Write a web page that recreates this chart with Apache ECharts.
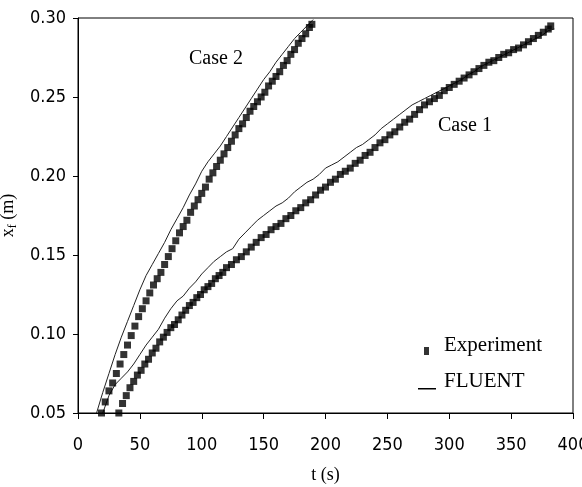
<!DOCTYPE html>
<html>
<head>
<meta charset="utf-8">
<script src="https://cdn.jsdelivr.net/npm/echarts@6/dist/echarts.min.js"></script>
<style>
  html, body { margin: 0; padding: 0; background: #fff; }
  #chart { width: 582px; height: 487px; }
</style>
</head>
<body>
<div id="chart"></div>
<script>
// [t (s), x_f (m)]
const case1Exp = [
  [33, 0.050], [36, 0.056], [39, 0.061], [42, 0.066], [45, 0.070], [48, 0.074],
  [51, 0.077], [54, 0.081], [57, 0.084], [60, 0.088], [63, 0.091], [66, 0.095],
  [69, 0.098], [72, 0.101], [75, 0.104], [78, 0.106], [81, 0.109], [84, 0.112],
  [87, 0.115], [90, 0.118], [93, 0.120], [96, 0.123], [99, 0.125], [102, 0.128],
  [105, 0.130], [108, 0.132], [111, 0.135], [114, 0.137], [117, 0.139], [120, 0.142],
  [124, 0.144], [128, 0.147], [132, 0.149], [136, 0.152], [140, 0.155], [144, 0.158],
  [148, 0.161], [152, 0.163], [156, 0.166], [160, 0.168], [164, 0.170], [168, 0.173],
  [172, 0.175], [176, 0.178], [180, 0.180], [184, 0.183], [188, 0.185], [192, 0.188],
  [196, 0.191], [200, 0.193], [204, 0.196], [208, 0.198], [212, 0.201], [216, 0.203],
  [220, 0.205], [224, 0.208], [228, 0.210], [232, 0.213], [236, 0.215], [240, 0.218],
  [244, 0.221], [248, 0.223], [252, 0.226], [256, 0.228], [260, 0.231], [264, 0.234],
  [268, 0.236], [272, 0.239], [276, 0.242], [280, 0.245], [284, 0.247], [288, 0.249],
  [292, 0.251], [296, 0.254], [300, 0.256], [304, 0.258], [308, 0.260], [312, 0.262],
  [316, 0.264], [320, 0.266], [324, 0.268], [328, 0.270], [332, 0.272], [336, 0.273],
  [340, 0.275], [344, 0.277], [348, 0.278], [352, 0.280], [356, 0.281], [360, 0.283],
  [364, 0.285], [368, 0.287], [372, 0.289], [376, 0.291], [380, 0.293], [382, 0.295]
];
const case1Fluent = [
  [20, 0.050], [25, 0.061], [30, 0.068], [35, 0.072], [40, 0.076], [45, 0.081],
  [50, 0.087], [55, 0.093], [60, 0.098], [65, 0.103], [70, 0.110], [75, 0.116],
  [80, 0.121], [85, 0.124], [90, 0.129], [95, 0.133], [100, 0.138], [105, 0.142],
  [110, 0.146], [115, 0.149], [120, 0.152], [125, 0.154], [130, 0.160], [135, 0.164],
  [140, 0.168], [145, 0.172], [150, 0.175], [155, 0.178], [160, 0.181], [165, 0.183],
  [170, 0.186], [175, 0.190], [180, 0.193], [185, 0.196], [190, 0.198], [195, 0.201],
  [200, 0.205], [205, 0.207], [210, 0.209], [215, 0.212], [220, 0.215], [225, 0.218],
  [230, 0.220], [235, 0.223], [240, 0.226], [245, 0.230], [250, 0.233], [255, 0.236],
  [260, 0.239], [265, 0.242], [270, 0.245], [275, 0.247], [280, 0.249], [285, 0.251],
  [290, 0.253], [295, 0.255], [300, 0.257], [305, 0.259], [310, 0.261], [315, 0.264],
  [320, 0.266], [325, 0.269], [330, 0.271], [335, 0.273], [340, 0.275], [345, 0.277],
  [350, 0.279], [355, 0.281], [360, 0.283], [365, 0.285], [370, 0.287], [375, 0.289],
  [380, 0.292], [385, 0.293]
];
const case2Exp = [
  [19, 0.050], [22, 0.057], [25, 0.064], [28, 0.069], [31, 0.075], [34, 0.081],
  [37, 0.087], [40, 0.093], [43, 0.099], [46, 0.105], [49, 0.111], [52, 0.116],
  [55, 0.121], [58, 0.126], [61, 0.131], [64, 0.135], [67, 0.139], [70, 0.144],
  [73, 0.149], [76, 0.154], [79, 0.159], [82, 0.164], [85, 0.168], [88, 0.172],
  [91, 0.177], [94, 0.181], [97, 0.185], [100, 0.189], [103, 0.193], [106, 0.198],
  [109, 0.202], [112, 0.206], [115, 0.210], [118, 0.214], [121, 0.218], [124, 0.222],
  [127, 0.226], [130, 0.230], [133, 0.233], [136, 0.237], [139, 0.241], [142, 0.244],
  [145, 0.247], [148, 0.250], [151, 0.253], [154, 0.257], [157, 0.260], [160, 0.263],
  [163, 0.266], [166, 0.270], [169, 0.273], [172, 0.277], [175, 0.280], [178, 0.284],
  [181, 0.287], [184, 0.290], [187, 0.294], [189, 0.296]
];
const case2Fluent = [
  [15, 0.050], [20, 0.063], [25, 0.075], [30, 0.087], [35, 0.098], [40, 0.108],
  [45, 0.118], [50, 0.128], [55, 0.137], [60, 0.144], [65, 0.151], [70, 0.158],
  [75, 0.166], [80, 0.173], [85, 0.180], [90, 0.188], [95, 0.195], [100, 0.203],
  [105, 0.209], [110, 0.214], [115, 0.219], [120, 0.225], [125, 0.231], [130, 0.237],
  [135, 0.243], [140, 0.249], [145, 0.255], [150, 0.261], [155, 0.266], [160, 0.272],
  [165, 0.277], [170, 0.282], [175, 0.287], [180, 0.291], [185, 0.295], [190, 0.299]
];
const legendNames = ['Experiment', 'FLUENT'];
const caseLabels = ['Case 1', 'Case 2'];

const narrow = "'Liberation Sans Narrow', 'DejaVu Sans Condensed', sans-serif";
const serif = "'Liberation Serif', 'DejaVu Serif', serif";

const chart = echarts.init(document.getElementById('chart'));

const expSeries = (data) => ({
  name: legendNames[0],
  type: 'scatter',
  symbol: 'rect',
  symbolSize: 7,
  itemStyle: { color: '#000' },
  data: data,
  z: 3
});
const fluentSeries = (data) => ({
  name: legendNames[1],
  type: 'line',
  showSymbol: false,
  symbol: 'none',
  itemStyle: { color: '#000' },
  lineStyle: { color: '#222', width: 1 },
  data: data,
  z: 2
});

chart.setOption({
  animation: false,
  grid: {
    left: 78, right: 9, top: 18, bottom: 74,
    show: true, borderColor: '#000', borderWidth: 1,
    outerBoundsMode: 'none'
  },
  xAxis: {
    type: 'value',
    min: 0, max: 400, interval: 50,
    name: 't (s)',
    nameLocation: 'middle',
    nameGap: 53,
    nameTextStyle: { fontFamily: serif, fontSize: 18, color: '#000' },
    axisLine: { lineStyle: { color: '#000', width: 1 } },
    axisTick: { show: true, length: 6, lineStyle: { color: '#000' } },
    axisLabel: { margin: 23, fontFamily: narrow, fontSize: 18, color: '#000' },
    splitLine: { show: false }
  },
  yAxis: {
    type: 'value',
    min: 0.05, max: 0.30, interval: 0.05,
    name: '{a|x}{b|f}{a| (m)}',
    nameLocation: 'middle',
    nameGap: 50,
    nameRotate: 90,
    nameTextStyle: {
      color: '#000',
      rich: {
        a: { fontFamily: serif, fontSize: 18, lineHeight: 22, color: '#000' },
        b: { fontFamily: serif, fontSize: 12, lineHeight: 12, verticalAlign: 'bottom', color: '#000' }
      }
    },
    axisLine: { show: true, lineStyle: { color: '#000', width: 1 } },
    axisTick: { show: true, length: 5, lineStyle: { color: '#000' } },
    axisLabel: {
      margin: 12, fontFamily: narrow, fontSize: 18, color: '#000',
      formatter: (v) => v.toFixed(2)
    },
    splitLine: { show: false }
  },
  legend: {
    orient: 'vertical',
    left: 418, top: 335,
    padding: 0,
    itemGap: 15,
    itemWidth: 21,
    itemHeight: 21,
    textStyle: { fontFamily: serif, fontSize: 21, color: '#000' },
    data: [
      { name: legendNames[0], icon: 'path://M0,0M21,21M6,12h5v8h-5z' },
      { name: legendNames[1], icon: 'path://M0,0M21,21M0,17h18v1.5h-18z' }
    ]
  },
  graphic: [
    {
      type: 'text', left: 438, top: 116,
      style: { text: caseLabels[0], font: '20px ' + serif, fill: '#000' }
    },
    {
      type: 'text', left: 189, top: 49,
      style: { text: caseLabels[1], font: '20px ' + serif, fill: '#000' }
    }
  ],
  series: [
    fluentSeries(case1Fluent),
    fluentSeries(case2Fluent),
    expSeries(case1Exp),
    expSeries(case2Exp)
  ]
});
</script>
</body>
</html>
